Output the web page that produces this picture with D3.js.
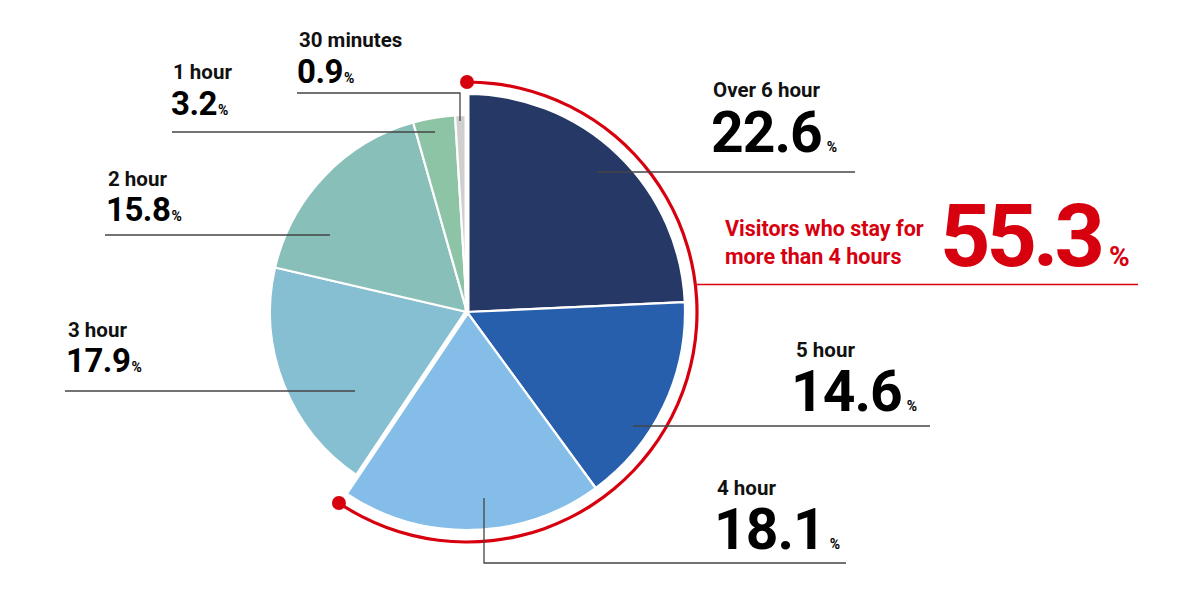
<!DOCTYPE html>
<html>
<head>
<meta charset="utf-8">
<script src="https://cdn.jsdelivr.net/npm/d3@7"></script>
<style>
  html, body { margin: 0; padding: 0; background: #fff; }
  svg { display: block; font-family: Roboto, "Noto Sans", sans-serif; }
</style>
</head>
<body>
<svg id="chart" width="1200" height="600"></svg>
<script>
// ---- data ----
const categories = ["Over 6 hour", "5 hour", "4 hour", "3 hour", "2 hour", "1 hour", "30 minutes"];
const values = [22.6, 14.6, 18.1, 17.9, 15.8, 3.2, 0.9];
const highlighted = [true, true, true, false, false, false, false];
const colors = ["#263865", "#285fad", "#84bde8", "#86bfd1", "#88bfb9", "#8dc4a6", "#cfcfcf"];
const highlightLabel = ["Visitors who stay for", "more than 4 hours"];
const highlightValue = "55.3";

// ---- layout (positions, not data) ----
const cx = 467, cy = 312;
const labelLayout = [
  { nx: 713, ny: 97,  vx: 711, vy: 152, big: true,  line: [[597,172],[855,172]] },
  { nx: 796, ny: 357, vx: 791, vy: 411, big: true,  line: [[633,426],[930,426]] },
  { nx: 717, ny: 495, vx: 714, vy: 549, big: true,  line: [[484,498],[484,563],[846,563]] },
  { nx: 68,  ny: 337, vx: 66,  vy: 372, big: false, line: [[355,391],[65,391]] },
  { nx: 108, ny: 186, vx: 106, vy: 221, big: false, line: [[330,235],[105,235]] },
  { nx: 173, ny: 79,  vx: 171, vy: 115, big: false, line: [[435,132],[172,132]] },
  { nx: 299, ny: 47,  vx: 297, vy: 83,  big: false, line: [[460,121],[460,93],[297,93]] }
];

const svg = d3.select("#chart");
const g = svg.append("g").attr("transform", `translate(${cx},${cy})`);

const rScale = d3.scaleOrdinal().domain([true, false]).range([218, 197]);

const pie = d3.pie().sort(null).value(d => d.v);
const data = categories.map((c, i) => ({ c, v: values[i], h: highlighted[i], col: colors[i] }));
const arcs = pie(data);

g.selectAll("path.slice")
  .data(arcs)
  .enter().append("path")
  .attr("class", "slice")
  .attr("d", d => d3.arc().innerRadius(0).outerRadius(rScale(d.data.h))(d))
  .attr("fill", d => d.data.col)
  .attr("stroke", "#fff")
  .attr("stroke-width", 2.2)
  .attr("stroke-linejoin", "round");

// thicker white separators at the highlighted group boundaries
const hiArcs = arcs.filter(d => d.data.h);
const groupStart = d3.min(hiArcs, d => d.startAngle);
const groupEnd = d3.max(hiArcs, d => d.endAngle);
[groupStart, groupEnd].forEach(a => {
  g.append("line")
    .attr("x1", 0).attr("y1", 0)
    .attr("x2", Math.sin(a) * 230).attr("y2", -Math.cos(a) * 230)
    .attr("stroke", "#fff").attr("stroke-width", 5);
});

// red highlight arc
const redR = 230;
const red = "#d7000f";
g.append("path")
  .attr("d", d3.arc().innerRadius(redR - 1.6).outerRadius(redR + 1.6)({ startAngle: groupStart, endAngle: groupEnd }))
  .attr("fill", red);
[groupStart, groupEnd].forEach(a => {
  g.append("circle")
    .attr("cx", Math.sin(a) * redR).attr("cy", -Math.cos(a) * redR)
    .attr("r", 7).attr("fill", red);
});

// leader lines
const lineGen = d3.line();
svg.selectAll("path.leader")
  .data(labelLayout)
  .enter().append("path")
  .attr("class", "leader")
  .attr("d", d => lineGen(d.line))
  .attr("fill", "none")
  .attr("stroke", "#444")
  .attr("stroke-width", 1.3);

// labels
labelLayout.forEach((L, i) => {
  svg.append("text")
    .attr("x", L.nx).attr("y", L.ny)
    .attr("font-size", 20.5).attr("font-weight", 700)
    .attr("fill", "#111")
    .text(categories[i]);
  const t = svg.append("text")
    .attr("x", L.vx).attr("y", L.vy)
    .attr("font-weight", 700).attr("fill", "#000");
  t.append("tspan")
    .attr("font-size", L.big ? 57 : 33)
    .attr("letter-spacing", L.big ? -1 : -0.5)
    .text(values[i].toFixed(1));
  t.append("tspan")
    .attr("dx", L.big ? 5 : 1)
    .attr("font-size", 14)
    .text("%");
});

// highlight annotation
svg.append("line")
  .attr("x1", cx + redR).attr("x2", 1138)
  .attr("y1", 284.5).attr("y2", 284.5)
  .attr("stroke", red).attr("stroke-width", 1.3);
highlightLabel.forEach((s, i) => {
  svg.append("text")
    .attr("x", 725).attr("y", 236 + i * 28)
    .attr("font-size", 21.5).attr("font-weight", 700)
    .attr("fill", red)
    .text(s);
});
const ht = svg.append("text")
  .attr("x", 940).attr("y", 266)
  .attr("font-weight", 700).attr("fill", red);
ht.append("tspan").attr("font-size", 88).attr("letter-spacing", -4).text(highlightValue);
ht.append("tspan").attr("dx", 8).attr("font-size", 28).text("%");
</script>
</body>
</html>
